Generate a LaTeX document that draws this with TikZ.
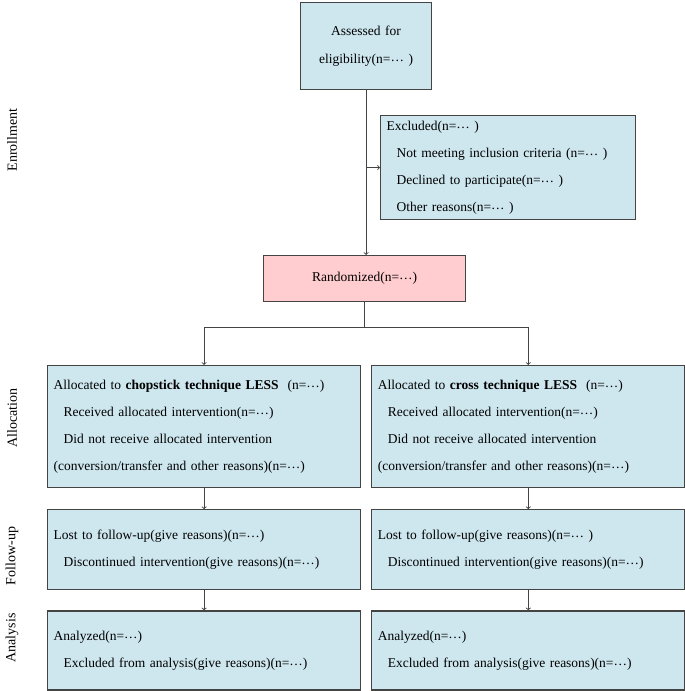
\documentclass[tikz,border=0pt]{standalone}
\usepackage{fontspec}
\setmainfont{Liberation Serif}
\definecolor{boxblue}{RGB}{206, 231, 239}
\definecolor{boxpink}{RGB}{255, 205, 207}
\definecolor{edgegray}{RGB}{68, 68, 68}
\newcommand{\midots}{\raisebox{.3ex}{…}}
\usetikzlibrary{arrows}
\usetikzlibrary{positioning}
\usetikzlibrary{calc}

\begin{document}
\begin{tikzpicture}[x=1pt, y=-1pt,
        infobox/.style={draw=edgegray, line width=1.2pt, fill=boxblue, inner xsep=6pt, inner ysep=0pt, align=left, text width=301pt, font=\fontsize{13.5}{27}\selectfont},
        conn/.style={draw=edgegray, line width=0.9pt},
        phase/.style={rotate=90, font=\fontsize{14}{16}\selectfont}]
        \useasboundingbox (0,0) rectangle (685,691);

        % Enrollment
        \node[infobox, anchor=north west, text width=119pt, minimum height=87pt, align=center, font=\fontsize{13.5}{28}\selectfont] (assess) at (300,2) {Assessed for\\ eligibility(n=\midots\ )};
        \node[infobox, anchor=north west, text width=243pt, minimum height=104pt] (excl) at (380,115) {Excluded(n=\midots\ )\\
            \hspace*{10pt}Not meeting inclusion criteria (n=\midots\ )\\
            \hspace*{10pt}Declined to participate(n=\midots\ )\\
            \hspace*{10pt}Other reasons(n=\midots\ )};
        \node[infobox, anchor=north west, fill=boxpink, text width=190pt, minimum height=46pt, align=center] (rand) at (263,255) {Randomized(n=\midots)};

        % Allocation
        \node[infobox, anchor=north west, minimum height=122pt] (alloc1) at (47,365) {Allocated to \textbf{chopstick technique LESS}\ \ (n=\midots)\\
            \hspace*{10pt}Received allocated intervention(n=\midots)\\
            \hspace*{10pt}Did not receive allocated intervention\\
            (conversion/transfer and other reasons)(n=\midots)};
        \node[infobox, minimum height=122pt, right=10pt of alloc1] (alloc2) {Allocated to \textbf{cross technique LESS}\ \ (n=\midots)\\
            \hspace*{10pt}Received allocated intervention(n=\midots)\\
            \hspace*{10pt}Did not receive allocated intervention\\
            (conversion/transfer and other reasons)(n=\midots)};

        % Follow-up
        \node[infobox, minimum height=80pt, below=21pt of alloc1] (follow1) {Lost to follow-up(give reasons)(n=\midots)\\
            \hspace*{10pt}Discontinued intervention(give reasons)(n=\midots)};
        \node[infobox, minimum height=80pt, below=21pt of alloc2] (follow2) {Lost to follow-up(give reasons)(n=\midots\ )\\
            \hspace*{10pt}Discontinued intervention(give reasons)(n=\midots)};

        % Analysis
        \node[infobox, minimum height=79pt, below=20pt of follow1] (anal1) {Analyzed(n=\midots)\\
            \hspace*{10pt}Excluded from analysis(give reasons)(n=\midots)};
        \node[infobox, minimum height=79pt, below=20pt of follow2] (anal2) {Analyzed(n=\midots)\\
            \hspace*{10pt}Excluded from analysis(give reasons)(n=\midots)};

        % Phase labels
        \node[phase] (penroll) at (12,140) {Enrollment};
        \node[phase] (palloc) at (12,418) {Allocation};
        \node[phase] (pfollow) at (12,556) {Follow-up};
        \node[phase] (panal) at (12,638) {Analysis};

        % Connectors
        \draw[conn, ->] (assess.south) -- (assess.south |- rand.north);
        \draw[conn, ->] (assess.south |- excl.west) -- (excl.west);
        \coordinate (branch) at ($(rand.south)+(0,25)$);
        \draw[conn] (rand.south) -- (branch);
        \draw[conn, ->] (branch) -| (alloc1.north);
        \draw[conn, ->] (branch) -| (alloc2.north);
        \foreach \a/\b in {alloc1/follow1, follow1/anal1, alloc2/follow2, follow2/anal2}
            \draw[conn, ->] (\a) -- (\b);
    \end{tikzpicture}
\end{document}
